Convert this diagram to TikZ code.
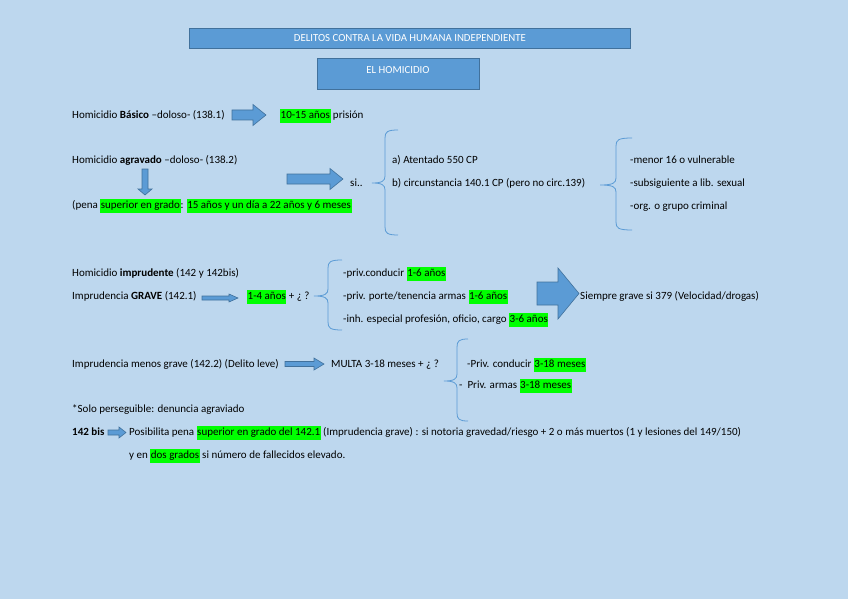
\documentclass[tikz,border=0pt]{standalone}
\usepackage{fontspec}
\setmainfont{Carlito}
\definecolor{bg}{HTML}{BDD7EE}
\definecolor{boxfill}{HTML}{5B9BD5}
\definecolor{boxline}{HTML}{41719C}
\definecolor{hlgreen}{HTML}{00FF00}
\setlength{\fboxsep}{0.5pt}
\newcommand\hl[1]{\colorbox{hlgreen}{\strut #1}}
% right block arrow: x1, x2, yc, shaft half, head half, head start
\newcommand\rarrow[6]{\draw[barrow] (#1,{#3-#4}) -- (#6,{#3-#4}) -- (#6,{#3-#5}) -- (#2,#3) -- (#6,{#3+#5}) -- (#6,{#3+#4}) -- (#1,{#3+#4}) -- cycle;}
% left brace: tipx, vx, endx, ytop, ytip, ybot
\newcommand\lbr[6]{\draw[bracestyle] (#3,#4) .. controls ({#2+2},#4) and (#2,{#4+2}) .. (#2,{#4+8}) -- (#2,{#5-7}) .. controls (#2,{#5-2}) and ({#2-3},#5) .. (#1,#5) .. controls ({#2-3},#5) and (#2,{#5+2}) .. (#2,{#5+7}) -- (#2,{#6-8}) .. controls (#2,{#6-2}) and ({#2+2},#6) .. (#3,#6);}
\begin{document}
\begin{tikzpicture}[x=1pt,y=-1pt,
  txt/.style={anchor=base west, inner sep=0pt, font=\fontsize{11}{13.2}\selectfont},
  barrow/.style={fill=boxfill, draw=boxline, line width=0.6pt},
  bracestyle/.style={draw=boxfill, line width=0.8pt},
  tbox/.style={draw=boxline, fill=boxfill, line width=0.8pt, anchor=north west, inner sep=0pt}]
\fill[bg] (0,0) rectangle (848,599);
\useasboundingbox (0,0) rectangle (848,599);

% titles
\node[tbox, minimum width=441pt, minimum height=20pt, text=white, font=\fontsize{10.8}{12}\selectfont] (title) at (189,28) {DELITOS CONTRA LA VIDA HUMANA INDEPENDIENTE};
\node[tbox, minimum width=162pt, minimum height=31pt] (hom) at (317,58) {};
\node[anchor=base, inner sep=0pt, text=white, font=\fontsize{10.8}{12}\selectfont] (homt) at (398,74) {EL HOMICIDIO};

% row 1
\node[txt] (basico) at (72,118.5) {Homicidio \textbf{Básico} –doloso- (138.1)};
\rarrow{232}{266}{115}{5}{10.5}{253}
\node[txt] (pena1) at (280,118.5) {\hl{10-15 años} prisión};

% row 2
\node[txt] (agrav) at (72,163.5) {Homicidio \textbf{agravado} –doloso- (138.2)};
\draw[barrow] (142,169) -- (148,169) -- (148,189) -- (152,189) -- (145,195) -- (138,189) -- (142,189) -- cycle;
\node[txt] (pena2) at (72,208.5) {(pena \hl{superior en grado}: \hl{15 años y un día a 22 años y 6 meses}};
\rarrow{287}{343}{179}{5}{10.5}{330}
\node[txt] (si) at (350,186.5) {si..};
\lbr{372}{385}{398}{130}{183}{235}
\node[txt] (a) at (392,163.5) {a) Atentado 550 CP};
\node[txt] (b) at (392,186.5) {b) circunstancia 140.1 CP (pero no circ.139)};
\lbr{600}{616}{632}{138}{185}{230}
\node[txt] (c1) at (630,163.5) {-menor 16 o vulnerable};
\node[txt] (c2) at (630,186.5) {-subsiguiente a lib. sexual};
\node[txt] (c3) at (630,209.5) {-org. o grupo criminal};

% row 3
\node[txt] (impr) at (72,276.5) {Homicidio \textbf{imprudente} (142 y 142bis)};
\node[txt] (grave) at (72,299.5) {Imprudencia \textbf{GRAVE} (142.1)};
\rarrow{202}{238}{298}{2}{4}{229}
\node[txt] (pena3) at (247,299.5) {\hl{1-4 años} + ¿ ?};
\lbr{314}{328}{342}{260}{296}{330}
\node[txt] (d1) at (343,276.5) {-priv.conducir \hl{1-6 años}};
\node[txt] (d2) at (343,299.5) {-priv. porte/tenencia armas \hl{1-6 años}};
\node[txt] (d3) at (343,322.5) {-inh. especial profesión, oficio, cargo \hl{3-6 años}};
\rarrow{537}{579}{293.5}{11.5}{25.5}{558}
\node[txt] (siempre) at (580,299.5) {Siempre grave si 379 (Velocidad/drogas)};

% row 4
\node[txt] (leve) at (72,367.5) {Imprudencia menos grave (142.2) (Delito leve)};
\rarrow{285}{324}{364}{2.5}{6}{314}
\node[txt] (multa) at (331,367.5) {MULTA 3-18 meses + ¿ ?};
\lbr{444}{457}{468}{339}{381}{421}
\node[txt] (e1) at (467,367.5) {-Priv. conducir \hl{3-18 meses}};
\node[txt] (e2) at (459,388.5) {- \ Priv. armas \hl{3-18 meses}};
\node[txt] (solo) at (72,412.5) {*Solo perseguible: denuncia agraviado};

% 142 bis
\node[txt] (bis) at (72,435.5) {\textbf{142 bis}};
\rarrow{108}{126}{432.5}{2.5}{5.5}{119}
\node[txt] (posib) at (129,435.5) {Posibilita pena \hl{superior en grado del 142.1} (Imprudencia grave) : si notoria gravedad/riesgo + 2 o más muertos (1 y lesiones del 149/150)};
\node[txt] (dos) at (129,458.5) {y en \hl{dos grados} si número de fallecidos elevado.};
\end{tikzpicture}
\end{document}
